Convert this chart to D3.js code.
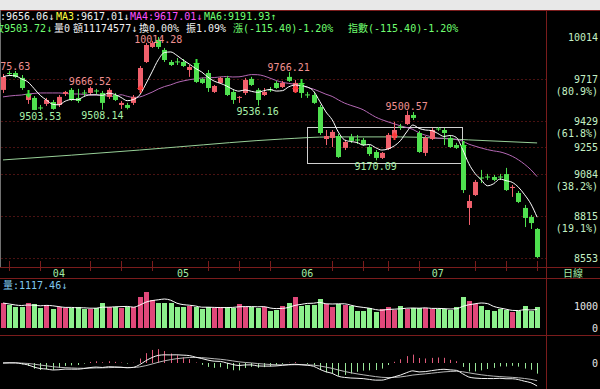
<!DOCTYPE html>
<html>
<head>
<meta charset="utf-8">
<script src="https://cdn.jsdelivr.net/npm/d3@7/dist/d3.min.js"></script>
<style>
  body { margin: 0; background: #000; }
  svg { display: block; }
  text { font-family: "DejaVu Sans Mono", "Noto Sans CJK TC", monospace; font-size: 10px; }
</style>
</head>
<body>
<script>
// daily candles (index points)
var opens = [9643,9760,9760,9726,9574,9588,9523,9547,9560,9540,9615,9643,9588,9625,9622,9639,9622,9595,9608,9540,
  9540,9554,9643,9837,9943,9993,9922,9837,9841,9837,9781,9830,9719,9760,9629,9691,9726,9629,9591,9622,
  9719,9643,9608,9646,9691,9663,9733,9629,9677,9612,9608,9526,9311,9318,9331,9252,9325,9308,9305,9258,
  9225,9186,9245,9318,9395,9411,9472,9351,9219,9311,9381,9371,9318,9271,9271,8864,8946,9059,9065,9062,
  9065,9081,8991,8959,8864,8807,8732];
var highs = [9753,9775.63,9774,9746,9629,9601,9540,9588,9574,9608,9636,9656,9650,9643,9666.52,9650,9636,9656,9622,9567,
  9554,9608,9809,9972,9986,10014.28,9936,9851,9865,9858,9816,9844,9726,9781,9677,9733,9740,9643,9601,9726,
  9733,9656,9656,9663,9705,9705,9766.21,9712,9705,9629,9622,9540,9371,9371,9345,9305,9345,9338,9318,9272,
  9238,9225,9351,9425,9412,9500.57,9492,9365,9331,9385,9391,9385,9331,9285,9285,8947,9043,9108,9082,9075,
  9082,9121,9011,8972,8883,8820,8738];
var lows = [9622,9740,9726,9643,9547,9505,9503.53,9533,9507,9526,9601,9567,9554,9601,9608,9615,9508.14,9581,9567,9513,
  9510,9540,9622,9830,9936,9929,9837,9809,9816,9802,9733,9691,9684,9629,9622,9684,9601,9547,9554,9608,
  9670,9536.16,9601,9629,9650,9656,9698,9622,9588,9588,9547,9338,9271,9258,9186,9238,9285,9278,9265,9199,
  9170.09,9179,9238,9305,9371,9405,9438,9219,9199,9305,9365,9271,9252,9245,8959,8757,8940,9023,9043,9036,
  9043,8972,8934,8895,8744,8732,8553];
var closes = [9733,9753,9733,9656,9615,9506,9516,9574,9513,9595,9629,9574,9567,9619,9656,9632,9554,9643,9574,9554,
  9520,9595,9795,9957,9972,9943,9851,9816,9834,9809,9802,9698,9691,9656,9670,9726,9608,9574,9595,9712,
  9677,9574,9629,9639,9656,9691,9705,9691,9622,9605,9554,9351,9331,9358,9192,9291,9298,9301,9271,9212,
  9186,9219,9338,9371,9388,9472,9452,9225,9318,9371,9375,9351,9258,9252,8978,8908,9030,9052,9059,9043,
  9059,8978,8998,8902,8801,8769,8559];
var volumes = [1136,1045,955,955,1136,1091,909,1045,864,955,909,909,955,864,864,909,1136,955,955,909,
  955,955,1409,1636,1273,1136,1136,1136,955,955,1000,955,864,955,909,955,955,909,1091,955,
  955,909,955,773,818,1000,1136,1409,1000,1045,1045,1318,1091,955,1091,1045,1000,773,773,909,
  727,864,955,818,1000,864,909,909,909,864,864,864,818,955,1409,1227,1091,1000,818,773,
  864,818,727,773,1000,773,955];

// 20-day average before enough bars are on screen
var ma20Head = [9595,9601,9605,9608,9615,9619,9622,9622,9622,9622,9619,9615,9615,9612,9608,9608,9605,9601,9598];
// long moving average, read at a few bars
var longMaIdx = [0, 22, 28, 45, 53, 64, 75, 86];
var longMaVal = [9173, 9238, 9258, 9311, 9325, 9325, 9305, 9285];

// marked highs / lows and signal arrows
var highMarks = [1, 14, 25, 46, 65];
var lowMarks = [6, 16, 41, 60];
var sellSignals = [4, 31, 48, 74];
var buySignals = [22, 47, 63];

// consolidation box
var boxStart = 49, boxEnd = 74, boxHigh = 9391, boxLow = 9153;

// axis
var priceTicks = [10014, 9717, 9429, 9255, 9084, 8815, 8553];
var fibLabels = ["", "(80.9%)", "(61.8%)", "", "(38.2%)", "(19.1%)", ""];
var monthIdx = [9, 29, 49, 70];
var monthLabels = ["04", "05", "06", "07"];
var weekTicks = [1, 6, 14, 19, 24, 33, 38, 43, 53, 58, 62, 67, 76, 81, 86];

var width = 600, height = 389, plotRight = 546;
var upColor = "#f0606c", downColor = "#4fe04f",
    volUp = "#e0487a", volDown = "#8cf08c",
    gridColor = "#7a1c1c";

var n = closes.length, idx = d3.range(n);

var svg = d3.select("body").append("svg")
    .attr("width", width)
    .attr("height", height);

svg.append("rect").attr("width", width).attr("height", height).attr("fill", "#000");
svg.append("rect").attr("width", width).attr("height", 10).attr("fill", "#e8e8e8");

// scales
var x = d3.scaleBand().domain(idx).range([-0.1, 540.2]).paddingInner(0.28).paddingOuter(0.14);
function cx(i) { return x(i) + x.bandwidth() / 2; }
var y = d3.scaleLog().domain([8553, 10014]).range([258, 37]);
var yv = d3.scaleLinear().domain([0, 1000]).range([328, 306]);

// derived series
function sma(arr, p) {
  return arr.map(function(d, i) { return d3.mean(arr.slice(Math.max(0, i - p + 1), i + 1)); });
}
function ema(arr, p) {
  var k = 2 / (p + 1), prev;
  return arr.map(function(d, i) { prev = i === 0 ? d : d * k + prev * (1 - k); return prev; });
}
var ma5 = sma(closes, 5);
var ma20 = closes.map(function(d, i) { return i < 19 ? ma20Head[i] : d3.mean(closes.slice(i - 19, i + 1)); });
var volMa = sma(volumes, 5);
var e12 = ema(closes, 12), e26 = ema(closes, 26);
var dif = e12.map(function(d, i) { return d - e26[i]; });
var dea = ema(dif, 9);
var hist = dif.map(function(d, i) { return 2 * (d - dea[i]); });
var macdMin = d3.min([d3.min(dif), d3.min(dea), d3.min(hist)]);
var ym = d3.scaleLinear().domain([macdMin, 0]).range([386, 363]);

function up(i) { return closes[i] >= opens[i]; }

// frame lines
[10.5, 267.5, 278.5, 335.5].forEach(function(v) {
  svg.append("line").attr("x1", 0).attr("x2", width).attr("y1", v).attr("y2", v)
    .attr("stroke", gridColor);
});
svg.append("line").attr("x1", plotRight + 0.5).attr("x2", plotRight + 0.5)
  .attr("y1", 10).attr("y2", height).attr("stroke", gridColor);
svg.append("line").attr("x1", 0.5).attr("x2", 0.5).attr("y1", 10).attr("y2", 267)
  .attr("stroke", "#707070");

// price grid + labels
svg.append("g").selectAll("line").data(priceTicks.slice(1)).enter().append("line")
    .attr("x1", 1).attr("x2", plotRight)
    .attr("y1", function(d) { return Math.round(y(d)) + 0.5; })
    .attr("y2", function(d) { return Math.round(y(d)) + 0.5; })
    .attr("stroke", "#4a1212").attr("stroke-dasharray", "2,2");

var yAxis = svg.append("g")
    .attr("transform", "translate(598,0)")
    .call(d3.axisLeft(y).tickValues(priceTicks).tickSize(0).tickPadding(0).tickFormat(d3.format("d")));
yAxis.select(".domain").remove();
yAxis.selectAll("text").attr("fill", "#c4f0c4").attr("dy", "0.35em")
    .style("font-family", "DejaVu Sans Mono").style("font-size", "10px");

svg.append("g").selectAll("text").data(priceTicks).enter().append("text")
    .attr("x", 598).attr("y", function(d) { return y(d) + 16; })
    .attr("text-anchor", "end").attr("fill", "#c4f0c4")
    .text(function(d, i) { return fibLabels[i]; });

// date axis
svg.append("g").selectAll("line").data(weekTicks).enter().append("line")
    .attr("x1", function(i) { return Math.round(cx(i)) + 0.5; })
    .attr("x2", function(i) { return Math.round(cx(i)) + 0.5; })
    .attr("y1", 261).attr("y2", 271)
    .attr("stroke", gridColor);
svg.append("g").selectAll("text").data(monthIdx).enter().append("text")
    .attr("x", cx).attr("y", 277).attr("text-anchor", "middle").attr("fill", "#a4eca4")
    .text(function(d, i) { return monthLabels[i]; });
svg.append("text").attr("x", 563).attr("y", 277).attr("fill", "#a4eca4").text("日線");

// long MA, 20 MA, 5 MA
var line = d3.line().curve(d3.curveMonotoneX);
svg.append("path")
    .attr("d", line(longMaIdx.map(function(d, k) { return [cx(d), y(longMaVal[k])]; })))
    .attr("fill", "none").attr("stroke", "#98d098").attr("stroke-width", 1);

// box
svg.append("rect")
    .attr("x", Math.round(cx(boxStart)) + 0.5)
    .attr("y", Math.round(y(boxHigh)) + 0.5)
    .attr("width", Math.round(cx(boxEnd) - cx(boxStart)))
    .attr("height", Math.round(y(boxLow) - y(boxHigh)))
    .attr("fill", "none").attr("stroke", "#d0d0d0");

svg.append("path")
    .attr("d", line(idx.map(function(i) { return [cx(i), y(ma20[i])]; })))
    .attr("fill", "none").attr("stroke", "#b468b4").attr("stroke-width", 1);

// candles
var candle = svg.append("g").selectAll("g").data(idx).enter().append("g");
candle.append("line")
    .attr("x1", function(i) { return Math.round(cx(i)) + 0.5; })
    .attr("x2", function(i) { return Math.round(cx(i)) + 0.5; })
    .attr("y1", function(i) { return y(highs[i]); })
    .attr("y2", function(i) { return y(lows[i]); })
    .attr("stroke", function(i) { return up(i) ? upColor : downColor; });
candle.append("rect")
    .attr("x", function(i) { return Math.round(cx(i)) + 0.5 - 2.5; })
    .attr("width", 5)
    .attr("y", function(i) { return y(Math.max(opens[i], closes[i])); })
    .attr("height", function(i) { return Math.max(1, Math.abs(y(opens[i]) - y(closes[i]))); })
    .attr("fill", function(i) { return up(i) ? upColor : downColor; });

svg.append("path")
    .attr("d", line(idx.map(function(i) { return [cx(i), y(ma5[i])]; })))
    .attr("fill", "none").attr("stroke", "#ffffff").attr("stroke-width", 1);

// signal arrows
function arrowDown(xc, top) {
  return "M" + (xc - 1) + "," + top + "h2v4h2.5l-3.5,4l-3.5,-4h2.5z";
}
function arrowUp(xc, bottom) {
  return "M" + (xc - 1) + "," + bottom + "h2v-4h2.5l-3.5,-4l-3.5,4h2.5z";
}
svg.append("g").selectAll("path").data(sellSignals).enter().append("path")
    .attr("d", function(i) { return arrowDown(Math.round(cx(i)) + 0.5, y(highs[i]) - 2); })
    .attr("fill", "#3ce83c");
svg.append("g").selectAll("path").data(buySignals).enter().append("path")
    .attr("d", function(i) { return arrowUp(Math.round(cx(i)) + 0.5, y(lows[i])); })
    .attr("fill", "#ff3838");

// high / low marks
svg.append("g").selectAll("text").data(highMarks).enter().append("text")
    .attr("x", cx).attr("y", function(i) { return Math.max(43, y(highs[i]) - 1); })
    .attr("text-anchor", "middle").attr("fill", "#f09090")
    .text(function(i) { return d3.format(".2f")(highs[i]); });
svg.append("g").selectAll("text").data(lowMarks).enter().append("text")
    .attr("x", cx).attr("y", function(i) { return y(lows[i]) + 9.5; })
    .attr("text-anchor", "middle").attr("fill", "#a8f0a8")
    .text(function(i) { return d3.format(".2f")(lows[i]); });

// header
var head1 = [[0, ":9656.06↓", "#f0f0f0"], [56, "MA3", "#ffff40"], [75, ":9617.01↓", "#f0f0f0"],
             [130, "MA4:9617.01↓", "#ff50ff"], [204, "MA6:9191.93↑", "#70ff70"]];
var head2 = [[-6, "收9503.72↓", "#70ff70"], [54, "量0", "#f0f0f0"], [73, "額11174577↓", "#f0f0f0"],
             [139, "換0.00%", "#f0f0f0"], [186, "振1.09%", "#f0f0f0"],
             [233, "漲(-115.40)-1.20%", "#70ff70"], [348, "指數(-115.40)-1.20%", "#70ff70"]];
svg.append("g").selectAll("text").data(head1).enter().append("text")
    .attr("x", function(d) { return d[0]; }).attr("y", 20)
    .attr("fill", function(d) { return d[2]; }).text(function(d) { return d[1]; });
svg.append("g").selectAll("text").data(head2).enter().append("text")
    .attr("x", function(d) { return d[0]; }).attr("y", 32)
    .attr("fill", function(d) { return d[2]; }).text(function(d) { return d[1]; });

// volume
svg.append("text").attr("x", 3).attr("y", 289).attr("fill", "#80c8f0").text("量:1117.46↓");
svg.append("g").selectAll("rect").data(idx).enter().append("rect")
    .attr("x", function(i) { return Math.round(cx(i)) + 0.5 - 2.5; })
    .attr("width", 5)
    .attr("y", function(i) { return yv(volumes[i]); })
    .attr("height", function(i) { return yv(0) - yv(volumes[i]); })
    .attr("fill", function(i) { return up(i) ? volUp : volDown; });
svg.append("path")
    .attr("d", line(idx.map(function(i) { return [cx(i), yv(volMa[i])]; })))
    .attr("fill", "none").attr("stroke", "#ffffff").attr("stroke-width", 1);

var vAxis = svg.append("g")
    .attr("transform", "translate(598,0)")
    .call(d3.axisLeft(yv).tickValues([0, 1000]).tickSize(0).tickPadding(0).tickFormat(d3.format("d")));
vAxis.select(".domain").remove();
vAxis.selectAll("text").attr("fill", "#e8e8e8").attr("dy", "0.35em")
    .style("font-family", "DejaVu Sans Mono").style("font-size", "10px");

// MACD
svg.append("g").selectAll("line").data(idx).enter().append("line")
    .attr("x1", function(i) { return Math.round(cx(i)) + 0.5; })
    .attr("x2", function(i) { return Math.round(cx(i)) + 0.5; })
    .attr("y1", ym(0))
    .attr("y2", function(i) { return ym(hist[i]); })
    .attr("stroke", function(i) { return hist[i] >= 0 ? "#e05a7a" : "#9ae89a"; });
svg.append("path")
    .attr("d", line(idx.map(function(i) { return [cx(i), ym(dea[i])]; })))
    .attr("fill", "none").attr("stroke", "#b8b8b8");
svg.append("path")
    .attr("d", line(idx.map(function(i) { return [cx(i), ym(dif[i])]; })))
    .attr("fill", "none").attr("stroke", "#f4f4f4");
svg.append("text").attr("x", 598).attr("y", ym(0)).attr("dy", "0.35em")
    .attr("text-anchor", "end").attr("fill", "#e8e8e8").text("0");
</script>
</body>
</html>
